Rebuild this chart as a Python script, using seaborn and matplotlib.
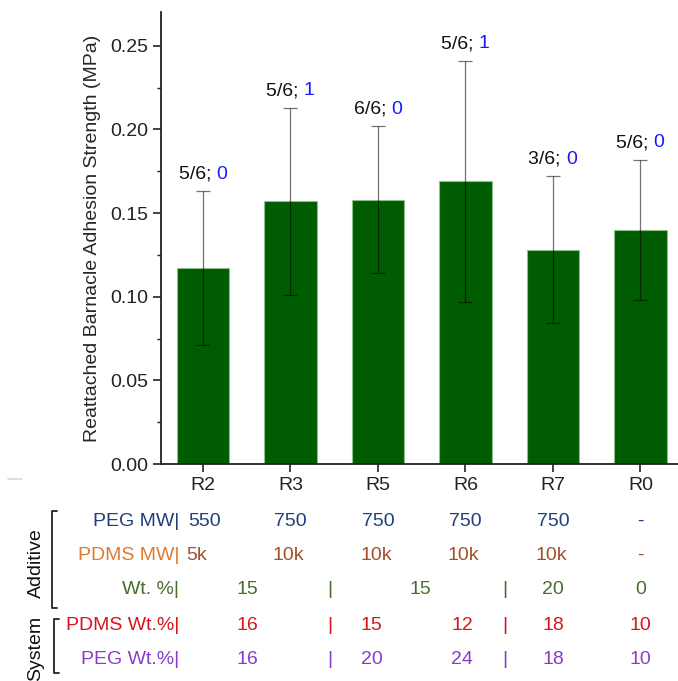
import numpy as np
import pandas as pd
import matplotlib
matplotlib.use("Agg")
import matplotlib.pyplot as plt
import matplotlib.transforms as mtransforms
import seaborn as sns

# ---- data ----
samples = ["R2", "R3", "R5", "R6", "R7", "R0"]
strength = [0.117, 0.157, 0.158, 0.169, 0.128, 0.140]
strength_sd = [0.046, 0.056, 0.044, 0.072, 0.044, 0.042]
reattached = ["5/6; ", "5/6; ", "6/6; ", "5/6; ", "3/6; ", "5/6; "]
broken = ["0", "1", "0", "1", "0", "0"]

peg_mw = ["550", "750", "750", "750", "750", "-"]
pdms_mw = ["5k", "10k", "10k", "10k", "10k", "-"]
additive_wt = ["15", "|", "15", "|", "20", "0"]
pdms_wt = ["16", "|", "15", "12", "|", "18", "10"]
peg_wt = ["16", "|", "20", "24", "|", "18", "10"]

# x positions (in bar units) of the table entries
peg_mw_x = [0.02, 1.0, 2.0, 3.0, 4.0, 5.0]
pdms_mw_x = [-0.07, 0.98, 1.98, 2.98, 3.98, 5.0]
additive_wt_x = [0.51, 1.45, 2.48, 3.45, 4.0, 5.0]
system_x = [0.51, 1.45, 1.93, 2.96, 3.45, 4.0, 5.0]

df = pd.DataFrame({"sample": samples, "strength": strength})

FS = 14
sns.set_theme(style="ticks")
plt.rcParams["font.family"] = ["Liberation Sans", "DejaVu Sans"]
plt.rcParams["font.size"] = FS

fig = plt.figure(figsize=(6.78, 6.81), dpi=100)
ax = fig.add_axes([0.2375, 0.3186, 0.7625, 0.6634])

sns.barplot(data=df, x="sample", y="strength", color="#005c00",
            width=0.6, errorbar=None, edgecolor="#8fbf8f", linewidth=0.8,
            saturation=1, ax=ax)
ax.errorbar(np.arange(len(samples)), strength, yerr=strength_sd, fmt="none",
            ecolor="black", alpha=0.55, elinewidth=0.9, capsize=5,
            capthick=0.9)

ax.set_xlim(-0.48, 5.43)
ax.set_ylim(0, 0.27)
ax.set_yticks([0, 0.05, 0.10, 0.15, 0.20, 0.25])
ax.set_yticks(np.arange(0.025, 0.27, 0.05), minor=True)
ax.yaxis.set_major_formatter(matplotlib.ticker.FormatStrFormatter("%.2f"))
ax.tick_params(axis="both", which="major", direction="out", length=6,
               width=1.2, labelsize=FS, colors="#222222")
ax.tick_params(axis="y", which="minor", direction="out", length=3, width=1.0,
               colors="#222222")
ax.set_xlabel("")
ax.set_ylabel("Reattached Barnacle Adhesion Strength (MPa)", fontsize=FS,
              labelpad=6)
for side in ["top", "right"]:
    ax.spines[side].set_visible(False)
for side in ["left", "bottom"]:
    ax.spines[side].set_linewidth(1.3)
    ax.spines[side].set_color("#222222")

# count labels above the error bars: black fraction, blue count
for i, (frac, n) in enumerate(zip(reattached, broken)):
    top = strength[i] + strength_sd[i]
    t = ax.annotate(frac, xy=(i, top), xytext=(-4, 6),
                    textcoords="offset points", ha="center", va="bottom",
                    fontsize=FS, color="#111111")
    ax.annotate(n, xy=(1, 0), xycoords=t, ha="left", va="bottom",
                fontsize=FS, color="#1a1aff")

# ---- parameter table below the axis ----
blend = mtransforms.blended_transform_factory(ax.transData, fig.transFigure)
H = 681.0


def fy(px):
    return 1 - px / H


rows = [
    ("PEG MW|", "#1f3f7f", peg_mw, peg_mw_x, "#1f3f7f", 521),
    ("PDMS MW|", "#e07a30", pdms_mw, pdms_mw_x, "#a0522d", 555),
    ("Wt. %|", "#466e2e", additive_wt, additive_wt_x, "#466e2e", 589),
    ("PDMS Wt.%|", "#d8141e", pdms_wt, system_x, "#d8141e", 625),
    ("PEG Wt.%|", "#8a3cc8", peg_wt, system_x, "#8a3cc8", 659),
]
for label, lcol, vals, xs, vcol, ypx in rows:
    fig.text(179 / 678, fy(ypx), label, ha="right", va="center",
             color=lcol, fontsize=FS)
    for v, x in zip(vals, xs):
        ax.text(x, fy(ypx), v, transform=blend, ha="center", va="center",
                color=vcol, fontsize=FS, clip_on=False)

# group brackets
W = 678.0


def bracket(x, y0, y1):
    xs = [(x + 5) / W, x / W, x / W, (x + 5) / W]
    ys = [fy(y0), fy(y0), fy(y1), fy(y1)]
    fig.add_artist(plt.Line2D(xs, ys, color="#222222", lw=1.3))


bracket(52, 511, 608)
bracket(54, 619, 673)
fig.text(36 / W, fy(563), "Additive", rotation=90, ha="center",
         va="center", fontsize=FS, color="#111111")
fig.text(36 / W, fy(648), "System", rotation=90, ha="center",
         va="center", fontsize=FS, color="#111111")
fig.add_artist(plt.Line2D([8 / W, 22 / W], [fy(479), fy(479)],
                          color="#d8d8d8", lw=1.2))

fig.savefig("out.png", dpi=100)
